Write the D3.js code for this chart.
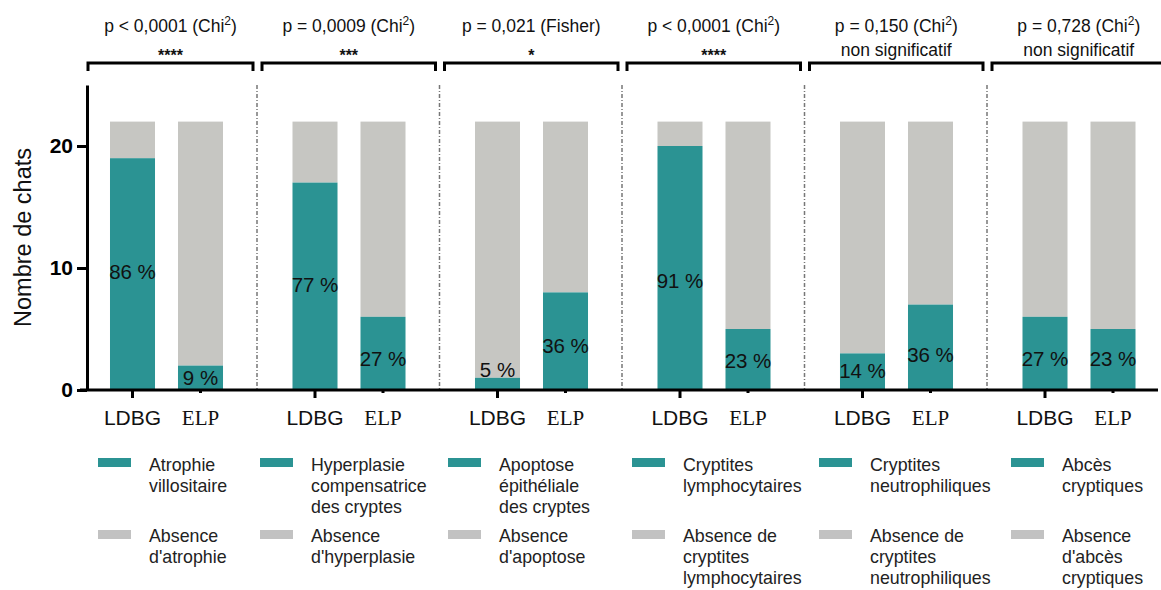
<!DOCTYPE html>
<html>
<head>
<meta charset="utf-8">
<script src="https://cdn.jsdelivr.net/npm/d3@7"></script>
<style>
  html, body { margin: 0; padding: 0; background: #fff; }
  svg { display: block; }
  text { font-family: "Liberation Sans", Arial, sans-serif; }
  text.serif { font-family: "Liberation Serif", "Times New Roman", serif; }
  text.sans { font-family: "Liberation Sans", Arial, sans-serif; }
</style>
</head>
<body>
<svg id="chart" width="1161" height="590"></svg>
<script>
// ---------------- DATA ----------------
const groups = ["atrophie", "hyperplasie", "apoptose", "lymphocytaires", "neutrophiliques", "abces"];
const subgroups = ["LDBG", "ELP"];
const totalCats = [22, 22, 22, 22, 22, 22];
const ldbgPositive = [19, 17, 1, 20, 3, 6];
const elpPositive = [2, 6, 8, 5, 7, 5];
const ldbgLabels = ["86 %", "77 %", "5 %", "91 %", "14 %", "27 %"];
const elpLabels = ["9 %", "27 %", "36 %", "23 %", "36 %", "23 %"];
const pTexts = ["p < 0,0001", "p =  0,0009", "p =  0,021", "p < 0,0001", "p = 0,150", "p = 0,728"];
const tests = ["Chi2", "Chi2", "Fisher", "Chi2", "Chi2", "Chi2"];
const signif = ["****", "***", "*", "****", "non significatif", "non significatif"];
const yTicks = [0, 10, 20];
const legendPresent = [
  ["Atrophie", "villositaire"],
  ["Hyperplasie", "compensatrice", "des cryptes"],
  ["Apoptose", "épithéliale", "des cryptes"],
  ["Cryptites", "lymphocytaires"],
  ["Cryptites", "neutrophiliques"],
  ["Abcès", "cryptiques"]
];
const legendAbsent = [
  ["Absence", "d'atrophie"],
  ["Absence", "d'hyperplasie"],
  ["Absence", "d'apoptose"],
  ["Absence de", "cryptites", "lymphocytaires"],
  ["Absence de", "cryptites", "neutrophiliques"],
  ["Absence", "d'abcès", "cryptiques"]
];

// ---------------- LAYOUT (not data) ----------------
const TEAL = "#2b9393";
const GREY = "#c6c6c2";
const LEG_GREY = "#c2c2c2";
const axisX = 87;
// in-bar label heights (y units) as placed in the original figure
const ldbgLabelAt = [9.7, 8.6, 1.7, 9.0, 1.6, 2.6];
const elpLabelAt = [1.0, 2.6, 3.6, 2.4, 2.9, 2.6];
const legendX = [98, 260, 448, 632, 819, 1011];

const svg = d3.select("#chart");

const x0 = d3.scaleBand().domain(groups).range([74.5, 74.5 + 182.5 * groups.length]).padding(0);
const x1 = d3.scaleBand().domain(subgroups).range([24, 160]).paddingInner(0.338).paddingOuter(0.169);
const y = d3.scaleLinear().domain([0, 25]).range([390, 85]);

const rows = [];
groups.forEach((g, i) => {
  rows.push({g, i, sub: "LDBG", pos: ldbgPositive[i], total: totalCats[i], label: ldbgLabels[i], labelAt: ldbgLabelAt[i]});
  rows.push({g, i, sub: "ELP", pos: elpPositive[i], total: totalCats[i], label: elpLabels[i], labelAt: elpLabelAt[i]});
});
const cx = d => x0(d.g) + x1(d.sub) + x1.bandwidth() / 2;

// dividers
svg.append("g").selectAll("line").data(groups.slice(1)).join("line")
  .attr("x1", d => x0(d)).attr("x2", d => x0(d))
  .attr("y1", y(25)).attr("y2", y(0))
  .attr("stroke", "#777").attr("stroke-width", 1.5)
  .attr("stroke-dasharray", "4,2,1,2");

// bars
const bars = svg.append("g");
bars.selectAll("rect.abs").data(rows).join("rect").attr("class", "abs")
  .attr("x", d => x0(d.g) + x1(d.sub)).attr("width", x1.bandwidth())
  .attr("y", d => y(d.total)).attr("height", d => y(d.pos) - y(d.total))
  .attr("fill", GREY);
bars.selectAll("rect.pos").data(rows).join("rect").attr("class", "pos")
  .attr("x", d => x0(d.g) + x1(d.sub)).attr("width", x1.bandwidth())
  .attr("y", d => y(d.pos)).attr("height", d => y(0) - y(d.pos))
  .attr("fill", TEAL);

// percent labels
svg.append("g").selectAll("text").data(rows).join("text")
  .attr("x", cx).attr("y", d => y(d.labelAt))
  .attr("dy", "0.36em").attr("text-anchor", "middle")
  .attr("font-size", 20.5).attr("fill", "#111")
  .text(d => d.label);

// y axis
const yAxis = svg.append("g").attr("transform", `translate(${axisX},0)`)
  .call(d3.axisLeft(y).tickValues(yTicks).tickSize(10).tickPadding(4).tickSizeOuter(0))
  .attr("font-family", null);
yAxis.select(".domain").attr("stroke", "#000").attr("stroke-width", 3);
yAxis.selectAll(".tick line").attr("stroke", "#000").attr("stroke-width", 3);
yAxis.selectAll(".tick text").attr("class", "sans").attr("font-size", 21).attr("font-weight", "bold").attr("fill", "#000");

// x axis baseline
svg.append("line").attr("x1", 80).attr("x2", 1158).attr("y1", y(0)).attr("y2", y(0))
  .attr("stroke", "#000").attr("stroke-width", 3);
svg.append("g").selectAll("line").data(rows).join("line")
  .attr("x1", cx).attr("x2", cx)
  .attr("y1", y(0)).attr("y2", d => y(0) + (d.sub === "LDBG" ? 8 : 3))
  .attr("stroke", "#000").attr("stroke-width", 3);
svg.append("g").selectAll("text").data(rows).join("text")
  .attr("class", d => d.sub === "LDBG" ? "sans" : "serif")
  .attr("x", cx).attr("y", 425)
  .attr("text-anchor", "middle")
  .attr("font-size", 21)
  .attr("fill", "#111")
  .text(d => d.sub);

// y axis title
svg.append("text").attr("transform", `translate(31,${(y(0) + y(25)) / 2}) rotate(-90)`)
  .attr("text-anchor", "middle").attr("font-size", 23.5).attr("fill", "#111")
  .text("Nombre de chats");

// brackets + stats
const brackets = svg.append("g");
groups.forEach((g, i) => {
  const xa = i === 0 ? axisX + 1 : x0(g) + 5;
  const xb = x0(g) + x0.bandwidth() - 4;
  const yb = 63;
  brackets.append("path")
    .attr("d", `M${xa},${yb + 8} L${xa},${yb} L${xb},${yb} L${xb},${yb + 8}`)
    .attr("fill", "none").attr("stroke", "#000").attr("stroke-width", 3);
  const xc = (xa + xb) / 2;
  const t = brackets.append("text").attr("x", xc).attr("y", 32)
    .attr("text-anchor", "middle").attr("font-size", 17.5).attr("fill", "#111");
  if (tests[i] === "Chi2") {
    t.append("tspan").text(pTexts[i] + " (Chi");
    t.append("tspan").attr("font-size", 12).attr("dy", -7).text("2");
    t.append("tspan").attr("dy", 7).text(")");
  } else {
    t.text(pTexts[i] + " (" + tests[i] + ")");
  }
  const star = signif[i].startsWith("*");
  brackets.append("text").attr("x", xc).attr("y", star ? 61 : 56)
    .attr("text-anchor", "middle").attr("font-size", star ? 16 : 17.5).attr("fill", "#111")
    .attr("font-weight", star ? "bold" : null)
    .text(signif[i]);
});

// legend
const leg = svg.append("g");
groups.forEach((g, i) => {
  const lx = legendX[i];
  leg.append("rect").attr("x", lx).attr("y", 458).attr("width", 33).attr("height", 9).attr("fill", TEAL);
  leg.append("rect").attr("x", lx).attr("y", 530).attr("width", 33).attr("height", 9).attr("fill", LEG_GREY);
  const t1 = leg.append("text").attr("x", lx + 51).attr("y", 471).attr("font-size", 17.8).attr("fill", "#222");
  legendPresent[i].forEach((s, k) => t1.append("tspan").attr("x", lx + 51).attr("dy", k === 0 ? 0 : 21).text(s));
  const t2 = leg.append("text").attr("x", lx + 51).attr("y", 542).attr("font-size", 17.8).attr("fill", "#222");
  legendAbsent[i].forEach((s, k) => t2.append("tspan").attr("x", lx + 51).attr("dy", k === 0 ? 0 : 21).text(s));
});
</script>
</body>
</html>
